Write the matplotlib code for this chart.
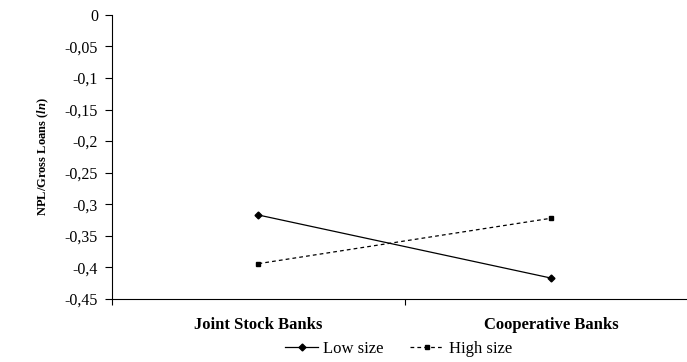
import matplotlib.pyplot as plt
from matplotlib.ticker import FuncFormatter, FixedLocator

plt.rcParams['font.family'] = 'Liberation Serif'
plt.rcParams['mathtext.fontset'] = 'custom'
plt.rcParams['mathtext.bfit'] = 'Liberation Serif:italic:bold'

categories = ['Joint Stock Banks', 'Cooperative Banks']
low_size = [-0.317, -0.417]
high_size = [-0.394, -0.322]
yticks = [0, -0.05, -0.1, -0.15, -0.2, -0.25, -0.3, -0.35, -0.4, -0.45]

fig = plt.figure(figsize=(6.87, 3.62), dpi=100)
ax = fig.add_axes([0.163, 0.174, 0.853, 0.785])

x = list(range(len(categories)))
ax.plot(x, low_size, color='black', lw=0.9, marker='D', markersize=3.5, label='Low size')
ax.plot(x, high_size, color='black', lw=0.9, ls=(0, (3, 2.5)), marker='s', markersize=3.5, label='High size')

ax.set_xlim(-0.5, 1.5)
ax.set_ylim(-0.45, 0)
ax.set_yticks(yticks)
ax.yaxis.set_major_formatter(FuncFormatter(lambda v, p: ('%g' % v).replace('.', ',')))
ax.tick_params(axis='y', direction='out', length=5, width=0.8, labelsize=11.5, pad=5)

ax.set_xticks(x)
ax.set_xticklabels(categories, fontweight='bold', fontsize=12)
ax.xaxis.set_minor_locator(FixedLocator([-0.5, 0.5, 1.5]))
ax.tick_params(axis='x', which='major', length=0, pad=13)
ax.tick_params(axis='x', which='minor', direction='out', length=4, width=0.8)

for s in ['top', 'right']:
    ax.spines[s].set_visible(False)
for s in ['left', 'bottom']:
    ax.spines[s].set_linewidth(0.8)

ax.set_ylabel(r'NPL/Gross Loans ($\mathbfit{ln}$)', fontweight='bold', fontsize=9, labelpad=10)

fig.legend(loc='center', bbox_to_anchor=(0.58, 0.035), ncol=2, frameon=False,
           fontsize=12, handlelength=2.0, columnspacing=1.6, handletextpad=0.3)

fig.savefig('out.png', dpi=100)
